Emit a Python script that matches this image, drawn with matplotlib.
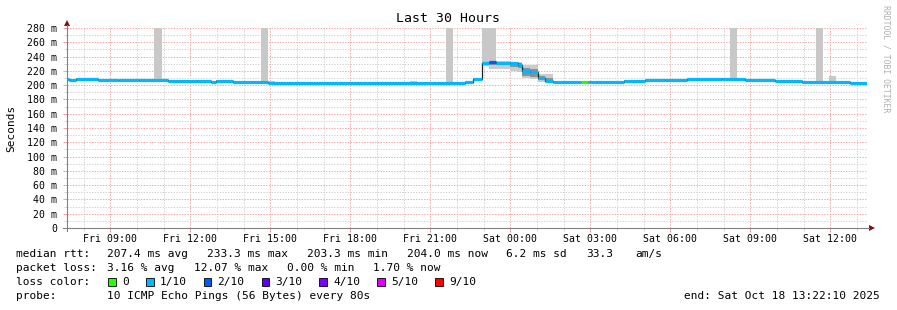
import numpy as np
import pandas as pd
import matplotlib
matplotlib.use("Agg")
import matplotlib.pyplot as plt
import matplotlib.dates as mdates
from matplotlib.lines import Line2D
from matplotlib.patches import Polygon, Rectangle
from matplotlib.transforms import IdentityTransform

# ---- data ----
end_time = pd.Timestamp("2025-10-18 13:22:10")
start_time = end_time - pd.Timedelta(hours=30)

seg_time = [
    "2025-10-17 07:22", "2025-10-17 07:27", "2025-10-17 07:42", "2025-10-17 08:32",
    "2025-10-17 09:19", "2025-10-17 10:04", "2025-10-17 11:09", "2025-10-17 12:15",
    "2025-10-17 12:46", "2025-10-17 12:57", "2025-10-17 13:36", "2025-10-17 14:23",
    "2025-10-17 14:54", "2025-10-17 22:18", "2025-10-17 22:36", "2025-10-17 22:56",
    "2025-10-17 23:12", "2025-10-17 23:27", "2025-10-17 23:59", "2025-10-18 00:17",
    "2025-10-18 00:26", "2025-10-18 00:44", "2025-10-18 01:02", "2025-10-18 01:18",
    "2025-10-18 01:36", "2025-10-18 02:39", "2025-10-18 02:54", "2025-10-18 04:15",
    "2025-10-18 05:03", "2025-10-18 05:48", "2025-10-18 06:37", "2025-10-18 07:56",
    "2025-10-18 08:48", "2025-10-18 09:55", "2025-10-18 10:56", "2025-10-18 12:44",
]
median_ms = [
    208.6, 207.4, 208.8, 207.6, 206.6, 206.9, 205.4, 205.9,
    204.7, 205.9, 204.9, 204.0, 203.5, 204.0, 208.6, 231.4,
    232.8, 231.5, 230.5, 228.5, 219.5, 217.8, 210.0, 205.5,
    203.8, 204.2, 204.4, 206.2, 206.8, 207.4, 208.2, 209.0,
    207.2, 205.8, 204.4, 203.4,
]
loss_idx = [1] * len(median_ms)
loss_idx[16] = 2      # 2/10 at the peak
loss_idx[25] = 0      # no loss around 02:40

# smoke (spread of the 10 pings) around the median, ms below / above
smoke_in_dn = [0.8] * len(median_ms)
smoke_in_up = [0.8] * len(median_ms)
smoke_out_dn = [1.2] * len(median_ms)
smoke_out_up = [1.2] * len(median_ms)
peak_in_dn = [1.5, 2.5, 4.0, 3.5, 4.5, 4.5, 6.0, 6.0, 3.0, 1.5]
peak_in_up = [2.0, 1.5, 1.2, 1.5, 1.5, 2.5, 4.5, 5.0, 3.0, 4.0]
peak_out_dn = [2.0, 4.5, 10.0, 8.5, 10.5, 9.5, 9.5, 9.0, 5.0, 1.5]
peak_out_up = [2.0, 1.8, 2.2, 2.5, 2.5, 3.5, 8.5, 10.0, 6.0, 10.5]
for k in range(10):
    smoke_in_dn[14 + k] = peak_in_dn[k]
    smoke_in_up[14 + k] = peak_in_up[k]
    smoke_out_dn[14 + k] = peak_out_dn[k]
    smoke_out_up[14 + k] = peak_out_up[k]

# single slow pings (max rtt of a bin)
spike_start = ["2025-10-17 10:38", "2025-10-17 14:39", "2025-10-17 14:57", "2025-10-17 20:14",
               "2025-10-17 21:35", "2025-10-17 22:56", "2025-10-18 08:14", "2025-10-18 11:27",
               "2025-10-18 11:57"]
spike_end = ["2025-10-17 10:56", "2025-10-17 14:54", "2025-10-17 15:10", "2025-10-17 20:29",
             "2025-10-17 21:51", "2025-10-17 23:27", "2025-10-18 08:30", "2025-10-18 11:43",
             "2025-10-18 12:12"]
spike_max = [340, 330, 206.5, 206.0, 335, 345, 350, 338, 212.8]

loss_labels = ["0", "1/10", "2/10", "3/10", "4/10", "5/10", "9/10"]
loss_colors = ["#26ff00", "#00b8ff", "#0059ff", "#5e00ff", "#7e00ff", "#dd00ff", "#ff0000"]

y_ticks = list(range(0, 281, 20))

# ---- figure ----
W, H = 897, 310
mono = "DejaVu Sans Mono"
fig = plt.figure(figsize=(W / 100, H / 100), dpi=100)
fig.patch.set_facecolor("white")
ax = fig.add_axes([67 / W, (H - 228) / H, 800 / W, 200 / H])

t = pd.to_datetime(seg_time)
edges = list(t) + [end_time]
med = np.array(median_ms)
med_ext = np.append(med, med[-1])

def ext(a):
    a = np.array(a)
    return np.append(a, a[-1])

# smoke
ax.fill_between(edges, med_ext - ext(smoke_out_dn), med_ext + ext(smoke_out_up),
                step="post", color="#cbcbcb", lw=0, zorder=2)
ax.fill_between(edges, med_ext - ext(smoke_in_dn), med_ext + ext(smoke_in_up),
                step="post", color="#8f8f8f", lw=0, zorder=2)
s0 = pd.to_datetime(spike_start)
s1 = pd.to_datetime(spike_end)
for a, b, m in zip(s0, s1, spike_max):
    # slow pings sit on top of the median of that time
    base = med[max(np.searchsorted(t, a + (b - a) / 2, side="right") - 1, 0)]
    ax.fill_between([a, b], [base, base], [m, m], color="#c8c8c8", lw=0, zorder=2)

# median line
ax.step(edges, med_ext, where="post", color="#202020", lw=0.9, zorder=3)
for i in range(len(med)):
    ax.hlines(med[i], edges[i], edges[i + 1], color=loss_colors[loss_idx[i]],
              lw=2.3, zorder=4)

ax.set_xlim(start_time, end_time)
ax.set_ylim(0, 280)

# grid
ax.xaxis.set_major_locator(mdates.HourLocator(byhour=range(0, 24, 3)))
ax.xaxis.set_minor_locator(mdates.HourLocator())
ax.xaxis.set_major_formatter(mdates.DateFormatter("%a %H:%M"))
ax.set_yticks(y_ticks)
ax.set_yticks(range(0, 281, 10), minor=True)
ax.set_yticklabels([("%d m" % v) if v else "0" for v in y_ticks])
ax.grid(which="minor", color="#d4d4d4", lw=0.7, ls=(0, (1.4, 1.4)), zorder=0)
ax.grid(which="major", color="#f4a4a4", lw=0.7, ls=(0, (1.4, 1.4)), zorder=1)
ax.set_axisbelow(True)
for sp in ax.spines.values():
    sp.set_visible(False)
ax.tick_params(which="major", axis="both", length=3, width=0.7, color="#f4a4a4",
               labelsize=7.1, labelfontfamily=mono, pad=2)
ax.tick_params(which="minor", axis="both", length=2, width=0.7, color="#d4d4d4")
ax.tick_params(axis="x", pad=1)
ax.tick_params(axis="y", pad=4)

# axis lines and arrows (pixel coords)
px = IdentityTransform()
fig.add_artist(Line2D([63, 869], [H - 228, H - 228], color="#808080", lw=0.8, transform=px))
fig.add_artist(Line2D([67, 67], [H - 231, H - 25], color="#808080", lw=0.8, transform=px))
fig.add_artist(Polygon([[64, H - 26], [70, H - 26], [67, H - 20]], closed=True,
                       color="#7f1010", lw=0, transform=px))
fig.add_artist(Polygon([[869, H - 225], [869, H - 231], [875, H - 228]], closed=True,
                       color="#7f1010", lw=0, transform=px))

def ptext(x, y, s, **kw):
    kw.setdefault("family", mono)
    kw.setdefault("size", 8)
    kw.setdefault("va", "center")
    fig.text(x / W, 1 - y / H, s, **kw)

ptext(448, 19, "Last 30 Hours", size=9.5, ha="center")
ptext(11, 128, "Seconds", rotation=90, ha="center")
ptext(886, 59, "RRDTOOL / TOBI OETIKER", size=5.9, rotation=270, ha="center",
      color="#b0b0b0")

# legend rows
ptext(16, 254, "median rtt:")
ptext(107.3, 254, "207.4 ms avg")
ptext(207.3, 254, "233.3 ms max")
ptext(307.3, 254, "203.3 ms min")
ptext(407.3, 254, "204.0 ms now")
ptext(505.7, 254, "6.2 ms sd")
ptext(586.7, 254, "33.3")
ptext(635, 254, "am/s")

ptext(16, 268, "packet loss:")
ptext(107.3, 268, "3.16 % avg")
ptext(194.3, 268, "12.07 % max")
ptext(286.7, 268, "0.00 % min")
ptext(372.7, 268, "1.70 % now")

ptext(16, 282, "loss color:")
box_x = [108, 146, 203.5, 261.5, 319, 377, 435]
for bx, lab, col in zip(box_x, loss_labels, loss_colors):
    fig.add_artist(Rectangle((bx, H - 285.5), 7.5, 7.5, facecolor=col,
                             edgecolor="black", lw=0.6, transform=px))
    ptext(bx + 14, 282, lab)

ptext(16, 296, "probe:")
ptext(107.3, 296, "10 ICMP Echo Pings (56 Bytes) every 80s")
ptext(880, 296, "end: Sat Oct 18 13:22:10 2025", ha="right")

fig.savefig("out.png", dpi=100, facecolor="white")
